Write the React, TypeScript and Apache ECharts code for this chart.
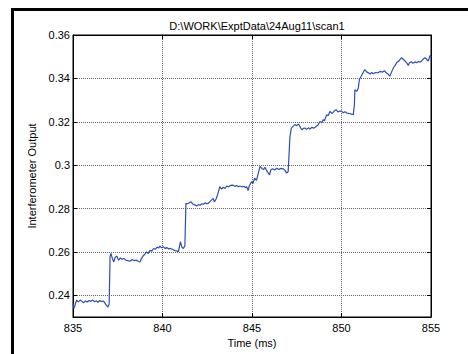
import React, { useEffect, useRef } from "react";
import * as echarts from "echarts";

const titleText = "D:\\WORK\\ExptData\\24Aug11\\scan1";
const xTitle = "Time (ms)";
const yTitle = "Interferometer Output";
const xTicks = [835, 840, 845, 850, 855];
const yTicks = [0.24, 0.26, 0.28, 0.3, 0.32, 0.34, 0.36];

const times = [
  835.0, 835.05, 835.1, 835.2, 835.3, 835.4, 835.5, 835.6, 835.7, 835.8, 835.9,
  836.0, 836.1, 836.2, 836.3, 836.4, 836.5, 836.6, 836.7, 836.8, 836.9, 836.95,
  837.02, 837.07, 837.12, 837.2, 837.28, 837.35, 837.45, 837.55, 837.65, 837.75,
  837.85, 837.95, 838.05, 838.18, 838.3, 838.42, 838.55, 838.65, 838.74, 838.82,
  838.9, 839.0, 839.1, 839.2, 839.3, 839.4, 839.5, 839.6, 839.7, 839.8, 839.86,
  839.95, 840.05, 840.15, 840.23, 840.35, 840.45, 840.6, 840.7, 840.8, 840.88,
  840.95, 841.0, 841.08, 841.16, 841.25, 841.31, 841.4, 841.5, 841.6, 841.7,
  841.8, 841.9, 842.0, 842.1, 842.2, 842.27, 842.4, 842.5, 842.56, 842.65,
  842.75, 842.83, 842.9, 843.0, 843.1, 843.2, 843.3, 843.4, 843.5, 843.58,
  843.7, 843.8, 843.95, 844.05, 844.15, 844.25, 844.33, 844.45, 844.55, 844.65,
  844.7, 844.78, 844.85, 844.98, 845.05, 845.15, 845.25, 845.35, 845.45, 845.55,
  845.65, 845.72, 845.8, 845.9, 845.98, 846.05, 846.15, 846.25, 846.38, 846.5,
  846.6, 846.75, 846.85, 846.94, 847.02, 847.12, 847.2, 847.3, 847.4, 847.5,
  847.6, 847.7, 847.78, 847.88, 847.96, 848.05, 848.15, 848.24, 848.35, 848.45,
  848.6, 848.7, 848.8, 848.9, 848.98, 849.05, 849.17, 849.25, 849.36, 849.45,
  849.5, 849.6, 849.7, 849.8, 849.9, 850.0, 850.1, 850.2, 850.3, 850.45, 850.55,
  850.66, 850.72, 850.75, 850.85, 850.94, 851.0, 851.1, 851.2, 851.3, 851.4,
  851.5, 851.6, 851.7, 851.77, 851.9, 852.05, 852.15, 852.3, 852.4, 852.5,
  852.6, 852.7, 852.8, 852.9, 853.0, 853.08, 853.2, 853.3, 853.36, 853.45,
  853.55, 853.65, 853.73, 853.8, 853.9, 854.0, 854.1, 854.2, 854.3, 854.4,
  854.47, 854.55, 854.66, 854.75, 854.85, 854.95, 855.0,
];

const outputs = [
  0.2362, 0.234, 0.2352, 0.2377, 0.237, 0.2378, 0.2372, 0.2366, 0.2374, 0.2369, 0.2376,
  0.2372, 0.2378, 0.237, 0.2375, 0.2368, 0.2376, 0.2371, 0.2374, 0.2362, 0.235, 0.2346,
  0.236, 0.2577, 0.2593, 0.257, 0.2554, 0.2575, 0.258, 0.2562, 0.2572, 0.2566,
  0.257, 0.2562, 0.256, 0.2557, 0.2565, 0.256, 0.2562, 0.2556, 0.2554, 0.2568,
  0.258, 0.2588, 0.26, 0.2592, 0.2607, 0.2603, 0.2616, 0.2612, 0.2622, 0.2618, 0.2627,
  0.2619, 0.2624, 0.2615, 0.262, 0.2614, 0.2616, 0.261, 0.2606, 0.2605, 0.26,
  0.2625, 0.2647, 0.2622, 0.2616, 0.2628, 0.2824, 0.2822, 0.2827, 0.2831, 0.282,
  0.2817, 0.2812, 0.2818, 0.2815, 0.2822, 0.282, 0.2826, 0.2822, 0.2824, 0.2832,
  0.284, 0.2847, 0.283, 0.2845, 0.287, 0.2901, 0.289, 0.2898, 0.2892, 0.2904,
  0.29, 0.2907, 0.2908, 0.2902, 0.2906, 0.29, 0.2904, 0.2899, 0.2903, 0.2896,
  0.2901, 0.2883, 0.2905, 0.2924, 0.2915, 0.294, 0.293, 0.2962, 0.2994, 0.2985,
  0.298, 0.299, 0.2978, 0.2964, 0.2955, 0.2978, 0.2984, 0.2978, 0.2986, 0.298,
  0.2985, 0.2983, 0.2975, 0.2963, 0.297, 0.3132, 0.3171, 0.318, 0.3187, 0.3182,
  0.319, 0.3175, 0.3163, 0.317, 0.3171, 0.3165, 0.3172, 0.3167, 0.3175, 0.317,
  0.3179, 0.3186, 0.3202, 0.3195, 0.321, 0.3205, 0.3233, 0.3228, 0.3248, 0.324,
  0.324, 0.325, 0.3256, 0.3245, 0.325, 0.3248, 0.3242, 0.3246, 0.324, 0.3238, 0.3235,
  0.3233, 0.328, 0.3348, 0.334, 0.3356, 0.3395, 0.341, 0.3426, 0.3441, 0.343,
  0.3426, 0.342, 0.3428, 0.3421, 0.3427, 0.3426, 0.3432, 0.3429, 0.3435, 0.3426,
  0.342, 0.341, 0.343, 0.3449, 0.346, 0.3472, 0.348, 0.349, 0.3495, 0.3488,
  0.348, 0.347, 0.346, 0.3472, 0.3477, 0.347, 0.3476, 0.3472, 0.3478, 0.3475,
  0.348, 0.3488, 0.3495, 0.3488, 0.348, 0.3506, 0.3498,
];

const FONT = "Liberation Sans, Arial, sans-serif";

export default function App() {
  const ref = useRef<HTMLDivElement>(null);

  useEffect(() => {
    if (!ref.current) return;
    const chart = echarts.init(ref.current, null, { renderer: "svg" });
    const data = times.map((t, i) => [t, outputs[i]]);
    const gridLine = { show: true, lineStyle: { color: "#666", type: [1, 1] as any, width: 1 } };
    chart.setOption({
      animation: false,
      backgroundColor: "#ffffff",
      title: {
        text: titleText,
        left: 252,
        top: 15,
        textAlign: "center",
        textStyle: { fontFamily: FONT, fontSize: 11, fontWeight: "normal", color: "#000" },
      },
      grid: {
        left: 73,
        right: 37,
        top: 35,
        bottom: 37,
        show: true,
        borderColor: "#000",
        borderWidth: 1,
        backgroundColor: "#fff",
      },
      xAxis: [
        {
          type: "value",
          min: 835,
          max: 855,
          interval: 5,
          name: xTitle,
          nameLocation: "middle",
          nameGap: 15,
          nameTextStyle: { fontFamily: FONT, fontSize: 11, color: "#000" },
          axisLine: { show: true, lineStyle: { color: "#000", width: 1 } },
          axisTick: { show: true, inside: true, length: 4, lineStyle: { color: "#000" }, customValues: xTicks },
          axisLabel: { fontFamily: FONT, fontSize: 11, color: "#000", margin: 5, customValues: xTicks },
          splitLine: gridLine,
        },
        {
          type: "value",
          position: "top",
          min: 835,
          max: 855,
          interval: 5,
          axisLine: { show: true, lineStyle: { color: "#000", width: 1 } },
          axisTick: { show: true, inside: true, length: 4, lineStyle: { color: "#000" } },
          axisLabel: { show: false },
          splitLine: { show: false },
        },
      ],
      yAxis: [
        {
          type: "value",
          min: 0.23,
          max: 0.36,
          name: yTitle,
          nameLocation: "middle",
          nameGap: 25,
          nameTextStyle: { fontFamily: FONT, fontSize: 11, color: "#000" },
          axisLine: { show: true, lineStyle: { color: "#000", width: 1 } },
          axisTick: { show: true, inside: true, length: 4, lineStyle: { color: "#000" }, customValues: yTicks },
          axisLabel: { fontFamily: FONT, fontSize: 11, color: "#000", margin: 3, customValues: yTicks },
          splitLine: gridLine,
        },
        {
          type: "value",
          position: "right",
          min: 0.23,
          max: 0.36,
          axisLine: { show: true, lineStyle: { color: "#000", width: 1 } },
          axisTick: { show: true, inside: true, length: 4, lineStyle: { color: "#000" }, customValues: yTicks },
          axisLabel: { show: false, customValues: yTicks },
          splitLine: { show: false },
        },
      ],
      graphic: [
        { type: "rect", shape: { x: 11, y: 8, width: 3, height: 346 }, style: { fill: "#000" }, silent: true },
        { type: "rect", shape: { x: 11, y: 8, width: 457, height: 3 }, style: { fill: "#000" }, silent: true },
      ],
      series: [
        {
          type: "line",
          data,
          showSymbol: false,
          symbol: "none",
          lineStyle: { color: "#2d4fb2", width: 1.2 },
          xAxisIndex: 0,
          yAxisIndex: 0,
        },
      ],
    });
    return () => chart.dispose();
  }, []);

  return (
    <div
      ref={ref}
      style={{ position: "fixed", left: 0, top: 0, width: 468, height: 354, background: "#fff" }}
    />
  );
}
